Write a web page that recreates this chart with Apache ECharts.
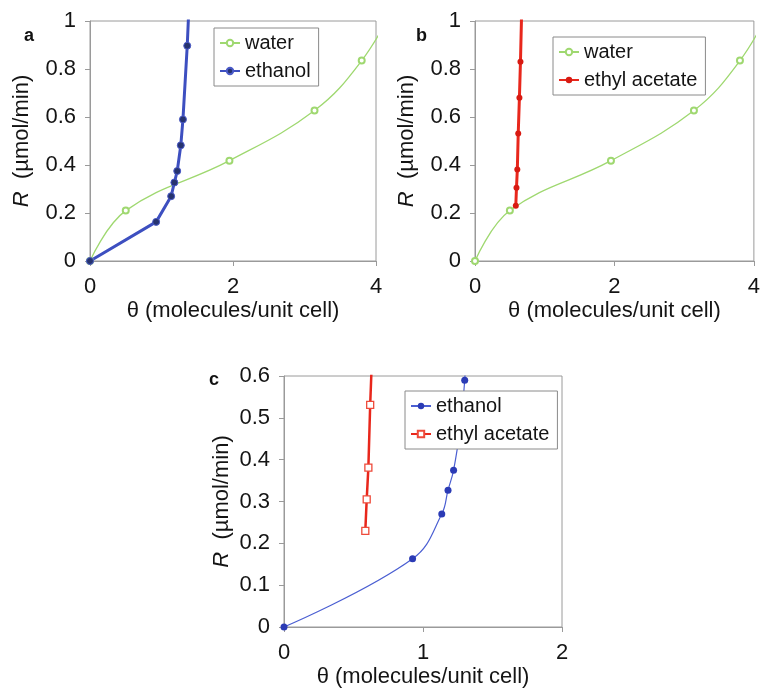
<!DOCTYPE html>
<html>
<head>
<meta charset="utf-8">
<script src="https://cdn.jsdelivr.net/npm/echarts@6/dist/echarts.min.js"></script>
<style>
  html, body { margin: 0; padding: 0; background: #fff; }
  #chart { width: 763px; height: 689px; }
</style>
</head>
<body>
<div id="chart"></div>
<script>
// water adsorption (panels a and b)
var waterTheta = [0, 0.5, 1.95, 3.14, 3.8, 4.25];
var waterR = [0, 0.21, 0.418, 0.627, 0.835, 1.06];
// ethanol (panels a and c)
var ethanolTheta = [0, 0.925, 1.135, 1.18, 1.22, 1.27, 1.30, 1.36, 1.385];
var ethanolR = [0, 0.163, 0.27, 0.327, 0.375, 0.482, 0.59, 0.897, 1.07];
// ethyl acetate (panels b and c)
var acetateTheta = [0.585, 0.595, 0.607, 0.62, 0.637, 0.652, 0.67];
var acetateR = [0.23, 0.305, 0.381, 0.531, 0.68, 0.83, 1.05];

var xTicksAB = { min: 0, max: 4, interval: 2 };
var xTicksC = { min: 0, max: 2, interval: 1 };
var yTicksAB = { min: 0, max: 1, interval: 0.2 };
var yTicksC = { min: 0, max: 0.6, interval: 0.1 };

function pairs(xs, ys) {
  return xs.map(function (x, i) { return [x, ys[i]]; });
}

var FONT = 'Liberation Sans, Arial, sans-serif';
var TXT = '#141414';
var GREEN = '#9fd870';
var BLUE = '#3d4fc0';
var RED = '#e8271c';

var grids = [
  { left: 90, top: 21, width: 286, height: 240 },
  { left: 475, top: 21, width: 285, height: 240 },
  { left: 284, top: 376, width: 278, height: 254 }
];
grids.forEach(function (g) {
  g.show = true;
  g.borderColor = '#9a9a9a';
  g.borderWidth = 1;
  g.backgroundColor = '#fff';
});

function xAxis(idx, t) {
  return {
    type: 'value', gridIndex: idx, min: t.min, max: t.max, interval: t.interval,
    name: 'θ (molecules/unit cell)', nameLocation: 'middle', nameGap: 39,
    nameTextStyle: { fontFamily: FONT, fontSize: 22, color: TXT },
    axisLine: { show: true, lineStyle: { color: '#9a9a9a' } },
    axisTick: { show: true, length: 5, lineStyle: { color: '#9a9a9a' } },
    axisLabel: { fontFamily: FONT, fontSize: 22, color: TXT, margin: 15 },
    splitLine: { show: false }
  };
}
function yAxis(idx, t, gap) {
  return {
    type: 'value', gridIndex: idx, min: t.min, max: t.max, interval: t.interval,
    name: '{i|R}  (µmol/min)', nameLocation: 'middle', nameGap: gap,
    nameTextStyle: {
      fontFamily: FONT, fontSize: 22, color: TXT,
      rich: { i: { fontFamily: FONT, fontSize: 22, fontStyle: 'italic', color: TXT } }
    },
    axisLine: { show: true, lineStyle: { color: '#9a9a9a' } },
    axisTick: { show: true, length: 5, lineStyle: { color: '#9a9a9a' } },
    axisLabel: { fontFamily: FONT, fontSize: 22, color: TXT, margin: 14 },
    splitLine: { show: false }
  };
}

// display names (series names must be unique per panel for the legends)
var labels = {
  'water a': 'water', 'ethanol a': 'ethanol',
  'water b': 'water', 'acetate b': 'ethyl acetate',
  'ethanol c': 'ethanol', 'acetate c': 'ethyl acetate'
};

function legend(names, left, top) {
  return {
    data: names, left: left, top: top, orient: 'vertical',
    selectedMode: false, itemGap: 8, itemWidth: 20, itemHeight: 8,
    padding: [5, 8, 5, 5],
    borderColor: '#8a8a8a', borderWidth: 1, backgroundColor: '#fff',
    textStyle: { fontFamily: FONT, fontSize: 20, color: TXT },
    formatter: function (n) { return labels[n]; }
  };
}

function panelTitle(text, left, top) {
  return {
    text: text, left: left, top: top,
    textStyle: { fontFamily: FONT, fontSize: 18, fontWeight: 'bold', color: '#111' }
  };
}

var series = [
  {
    name: 'water a', type: 'line', xAxisIndex: 0, yAxisIndex: 0, smooth: 0.4,
    data: pairs(waterTheta, waterR),
    symbol: 'emptyCircle', symbolSize: 6,
    lineStyle: { color: GREEN, width: 1.3 },
    itemStyle: { color: GREEN, borderColor: GREEN, borderWidth: 1 }
  },
  {
    name: 'ethanol a', type: 'line', xAxisIndex: 0, yAxisIndex: 0, smooth: false,
    data: pairs(ethanolTheta, ethanolR),
    symbol: 'circle', symbolSize: 7,
    lineStyle: { color: BLUE, width: 3 },
    itemStyle: { color: '#26336f', borderColor: '#4a5ac8', borderWidth: 1 }
  },
  {
    name: 'water b', type: 'line', xAxisIndex: 1, yAxisIndex: 1, smooth: 0.4,
    data: pairs(waterTheta, waterR),
    symbol: 'emptyCircle', symbolSize: 6,
    lineStyle: { color: GREEN, width: 1.3 },
    itemStyle: { color: GREEN, borderColor: GREEN, borderWidth: 1 }
  },
  {
    name: 'acetate b', type: 'line', xAxisIndex: 1, yAxisIndex: 1, smooth: false,
    data: pairs(acetateTheta, acetateR),
    symbol: 'circle', symbolSize: 6,
    lineStyle: { color: RED, width: 3 },
    itemStyle: { color: '#d81a12' }
  },
  {
    name: 'ethanol c', type: 'line', xAxisIndex: 2, yAxisIndex: 2, smooth: 0.4,
    data: pairs(ethanolTheta, ethanolR),
    symbol: 'circle', symbolSize: 7,
    lineStyle: { color: '#4b5fd2', width: 1.2 },
    itemStyle: { color: '#2b3bb5' }
  },
  {
    name: 'acetate c', type: 'line', xAxisIndex: 2, yAxisIndex: 2, smooth: false,
    data: pairs(acetateTheta, acetateR),
    symbol: 'rect', symbolSize: 7,
    lineStyle: { color: RED, width: 2.5 },
    itemStyle: { color: '#fff', borderColor: '#ee4a3a', borderWidth: 1.3 }
  }
];

var chart = echarts.init(document.getElementById('chart'), null, { renderer: 'canvas' });
chart.setOption({
  animation: false,
  backgroundColor: '#fff',
  title: [panelTitle('a', 19, 22), panelTitle('b', 411, 22), panelTitle('c', 204, 366)],
  grid: grids,
  xAxis: [xAxis(0, xTicksAB), xAxis(1, xTicksAB), xAxis(2, xTicksC)],
  yAxis: [yAxis(0, yTicksAB, 57), yAxis(1, yTicksAB, 57), yAxis(2, yTicksC, 51)],
  legend: [
    legend(['water a', 'ethanol a'], 214, 28),
    legend(['water b', 'acetate b'], 553, 37),
    legend(['ethanol c', 'acetate c'], 405, 391)
  ],
  series: series
});
</script>
</body>
</html>
